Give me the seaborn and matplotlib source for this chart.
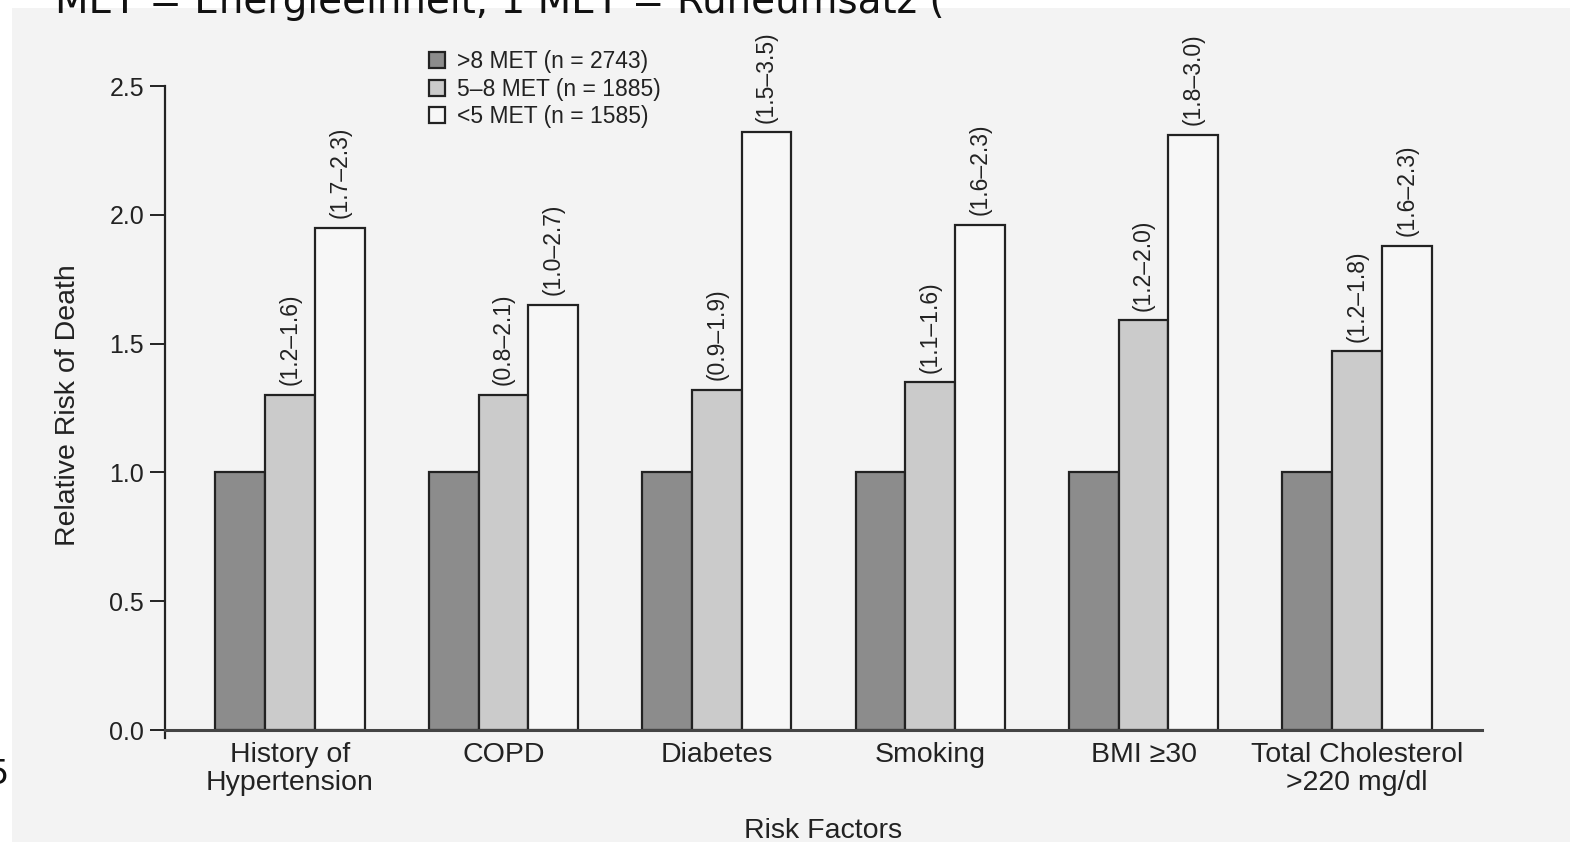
import matplotlib
matplotlib.use("Agg")
import matplotlib.pyplot as plt
import seaborn as sns
import pandas as pd
from matplotlib.patches import Rectangle

# ---- data ----
categories = ["History of\nHypertension", "COPD", "Diabetes", "Smoking",
              "BMI \u226530", "Total Cholesterol\n>220 mg/dl"]
groups = [">8 MET (n = 2743)", "5\u20138 MET (n = 1885)", "<5 MET (n = 1585)"]
rr_high = [1.0, 1.0, 1.0, 1.0, 1.0, 1.0]
rr_mid = [1.30, 1.30, 1.32, 1.35, 1.59, 1.47]
rr_low = [1.95, 1.65, 2.32, 1.96, 2.31, 1.88]
ci_mid = ["(1.2\u20131.6)", "(0.8\u20132.1)", "(0.9\u20131.9)", "(1.1\u20131.6)",
          "(1.2\u20132.0)", "(1.2\u20131.8)"]
ci_low = ["(1.7\u20132.3)", "(1.0\u20132.7)", "(1.5\u20133.5)", "(1.6\u20132.3)",
          "(1.8\u20133.0)", "(1.6\u20132.3)"]
yticks = [0.0, 0.5, 1.0, 1.5, 2.0, 2.5]

rows = []
for vals, g in zip([rr_high, rr_mid, rr_low], groups):
    for c, v in zip(categories, vals):
        rows.append({"factor": c, "group": g, "rr": v})
df = pd.DataFrame(rows)

sns.set_theme(style="white")
plt.rcParams["font.family"] = ["Liberation Sans", "DejaVu Sans"]

W, H = 1570, 842
fig = plt.figure(figsize=(W / 100, H / 100), dpi=100)
fig.patch.set_facecolor("white")
fig.patches.append(Rectangle((12 / W, 0), 1, 1 - 8 / H, transform=fig.transFigure,
                             facecolor="#f3f3f3", edgecolor="none", zorder=-10))

ax_left, ax_right = 165, 1482
y0_px, y25_px = 730, 86
ax = fig.add_axes([ax_left / W, (H - y0_px) / H, (ax_right - ax_left) / W,
                   (y0_px - y25_px) / H])
ax.set_facecolor("none")

palette = ["#8c8c8c", "#cbcbcb", "#f7f7f7"]
sns.barplot(data=df, x="factor", y="rr", hue="group", hue_order=groups,
            order=categories, palette=palette, width=0.70, gap=0,
            edgecolor="#222222", linewidth=1.6, ax=ax, legend=True)

ax.set_xlim(-0.586, 5.586)
ax.set_ylim(0, 2.5)
ax.set_yticks(yticks)
ax.set_yticklabels([f"{t:.1f}" for t in yticks], fontsize=18)
ax.tick_params(axis="y", direction="out", length=11, width=1.4, color="#222222",
               left=True, pad=4, labelcolor="#222222")
ax.tick_params(axis="x", length=0, pad=9, labelsize=20.5, labelcolor="#222222")
for lab in ax.get_xticklabels():
    lab.set_linespacing(1.05)
ax.set_xlabel("Risk Factors", fontsize=20.5, color="#222222")
ax.xaxis.set_label_coords(0.5, -(818 - 730) / 644)
ax.set_ylabel("Relative Risk of Death", fontsize=20.5, color="#222222")
ax.yaxis.set_label_coords((81 - 165) / 1317, (730 - 405) / 644)
for s in ["top", "right"]:
    ax.spines[s].set_visible(False)
ax.spines["left"].set_color("#222222")
ax.spines["left"].set_linewidth(1.6)
ax.spines["left"].set_bounds(-0.03, 2.5)
ax.spines["bottom"].set_color("#444444")
ax.spines["bottom"].set_linewidth(2.2)

# CI annotations above the 5-8 and <5 MET bars
containers = ax.containers
for cont, labels in [(containers[1], ci_mid), (containers[2], ci_low)]:
    for bar, lab in zip(cont.patches, labels):
        xc = bar.get_x() + bar.get_width() / 2
        ax.annotate(lab, (xc, bar.get_height()), xytext=(0, 7),
                    textcoords="offset points", rotation=90, ha="center",
                    va="bottom", fontsize=16.5, color="#222222", clip_on=False)

leg = ax.legend(loc="upper left", bbox_to_anchor=(420 / W, 1 - 41 / H),
                bbox_transform=fig.transFigure, frameon=False, fontsize=16.5,
                handlelength=0.7, handleheight=0.7, handletextpad=0.5,
                labelspacing=0.2, borderaxespad=0)
for t in leg.get_texts():
    t.set_color("#222222")

# partially visible caption text cut off at the page edges
fig.text(55 / W, 1 - 13 / H, "MET = Energieeinheit, 1 MET = Ruheumsatz (",
         fontsize=28, va="baseline", ha="left", family="DejaVu Sans",
         color="#111111")
fig.text(-13 / W, 1 - 775 / H, "5", fontsize=24, va="center", ha="left",
         family="DejaVu Sans", color="#111111")

fig.savefig("out.png", dpi=100, facecolor=fig.get_facecolor())
